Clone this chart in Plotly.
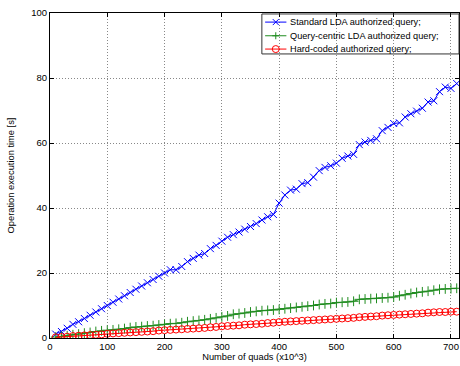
import plotly.graph_objects as go

quads = list(range(10, 720, 10))

standard_lda = [1.2, 2.0, 3.0, 4.2, 5.0, 6.0, 7.0, 8.0, 9.0, 10.0,
                11.0, 12.0, 13.0, 14.0, 15.0, 16.0, 17.0, 18.0, 19.0, 20.0,
                21.0, 21.0, 22.0, 23.5, 24.5, 25.5, 26.0, 27.5, 28.5, 29.8,
                31.0, 31.8, 32.6, 33.5, 34.3, 35.2, 36.3, 37.3, 38.0, 41.5,
                44.0, 45.5, 45.8, 47.5, 47.8, 49.5, 51.5, 52.5, 53.0, 53.8,
                55.3, 56.0, 56.5, 59.5, 60.3, 60.8, 61.3, 63.8, 64.8, 66.0,
                66.2, 68.0, 69.0, 69.8, 70.7, 72.6, 73.0, 75.8, 77.2, 76.8,
                78.3]

query_centric = [0.3, 0.5, 0.7, 1.0, 1.2, 1.5, 1.7, 2.0, 2.2, 2.4,
                 2.5, 2.7, 2.9, 3.2, 3.4, 3.5, 3.7, 3.8, 4.0, 4.2,
                 4.4, 4.5, 4.7, 5.0, 5.2, 5.4, 5.6, 5.9, 6.2, 6.5,
                 6.8, 7.3, 7.5, 7.7, 8.0, 8.2, 8.4, 8.5, 8.6, 8.8,
                 9.0, 9.2, 9.4, 9.6, 9.8, 10.0, 10.3, 10.5, 10.6, 10.9,
                 11.0, 11.1, 11.3, 11.9, 12.0, 12.1, 12.2, 12.3, 12.4, 12.6,
                 13.0, 13.3, 13.7, 14.0, 14.2, 14.4, 14.7, 15.0, 15.1, 15.2,
                 15.3]

hard_coded = [0.2, 0.3, 0.4, 0.6, 0.7, 0.8, 0.9, 1.0, 1.1, 1.3,
              1.4, 1.5, 1.6, 1.7, 1.8, 1.9, 2.0, 2.1, 2.3, 2.4,
              2.5, 2.6, 2.7, 2.8, 2.9, 3.0, 3.1, 3.3, 3.4, 3.6,
              3.7, 3.8, 3.9, 4.1, 4.2, 4.3, 4.4, 4.6, 4.7, 4.9,
              5.0, 5.1, 5.2, 5.3, 5.4, 5.5, 5.6, 5.7, 5.8, 5.9,
              6.0, 6.1, 6.2, 6.4, 6.5, 6.6, 6.7, 6.9, 7.0, 7.1,
              7.2, 7.3, 7.4, 7.5, 7.6, 7.8, 7.9, 8.0, 8.0, 8.1,
              8.1]

series_names = ["Standard LDA authorized query;",
                "Query-centric LDA authorized query;",
                "Hard-coded authorized query;"]
x_ticks = [0, 100, 200, 300, 400, 500, 600, 700]
y_ticks = [0, 20, 40, 60, 80, 100]

BLUE, GREEN, RED = "#0000ff", "#1f8c1f", "#ff0000"
colors = [BLUE, GREEN, RED]

fig = go.Figure()
fig.add_trace(go.Scatter(
    x=quads, y=standard_lda, name=series_names[0], mode="lines+markers",
    line=dict(color=BLUE, width=1),
    marker=dict(symbol="x-thin", size=7, line=dict(color=BLUE, width=1), color=BLUE)))
fig.add_trace(go.Scatter(
    x=quads, y=query_centric, name=series_names[1], mode="lines+markers",
    line=dict(color=GREEN, width=1),
    marker=dict(symbol="cross-thin", size=7, line=dict(color=GREEN, width=1), color=GREEN)))
fig.add_trace(go.Scatter(
    x=quads, y=hard_coded, name=series_names[2], mode="lines+markers",
    line=dict(color=RED, width=1),
    marker=dict(symbol="circle-open", size=7, line=dict(color=RED, width=1), color=RED)))

axis_common = dict(
    showline=True, linecolor="black", linewidth=1, mirror="ticks",
    ticks="inside", ticklen=4, tickcolor="black",
    showgrid=True, gridcolor="#888888", griddash="1px,2px", gridwidth=1,
    zeroline=False, tickfont=dict(size=9.5, color="black"),
)

# --- compact MATLAB-style legend drawn in paper coordinates ---
leg_box = dict(x0=0.518, x1=1.0, y0=0.874, y1=0.997)
leg_rows = [0.972, 0.930, 0.889]
leg_line = (0.526, 0.578)
leg_mark_x = 0.552
leg_text_x = 0.583
glyph_paths = ["M-3,-3 L3,3 M-3,3 L3,-3", "M-3.5,0 L3.5,0 M0,-3.5 L0,3.5", None]

shapes = [dict(type="rect", xref="paper", yref="paper", line=dict(color="#333333", width=1),
               fillcolor="rgba(0,0,0,0)", **leg_box)]
annotations = []
for name, col, yrow, gp in zip(series_names, colors, leg_rows, glyph_paths):
    shapes.append(dict(type="line", xref="paper", yref="paper",
                       x0=leg_line[0], x1=leg_line[1], y0=yrow, y1=yrow,
                       line=dict(color=col, width=1)))
    if gp is not None:
        shapes.append(dict(type="path", xref="paper", yref="paper",
                           xsizemode="pixel", ysizemode="pixel",
                           xanchor=leg_mark_x, yanchor=yrow, path=gp,
                           line=dict(color=col, width=1)))
    else:
        shapes.append(dict(type="circle", xref="paper", yref="paper",
                           xsizemode="pixel", ysizemode="pixel",
                           xanchor=leg_mark_x, yanchor=yrow,
                           x0=-3.5, x1=3.5, y0=-3.5, y1=3.5,
                           line=dict(color=col, width=1), fillcolor="rgba(0,0,0,0)"))
    annotations.append(dict(xref="paper", yref="paper", x=leg_text_x, y=yrow,
                            xanchor="left", yanchor="middle", showarrow=False,
                            text=name, font=dict(size=9.2, color="black")))

fig.update_layout(
    width=460, height=366,
    margin=dict(l=50, r=1, t=13, b=28),
    paper_bgcolor="white", plot_bgcolor="white",
    font=dict(family="Liberation Sans, Arial, sans-serif", size=9.5, color="black"),
    xaxis=dict(range=[0, 714], tickvals=x_ticks,
               title=dict(text="Number of quads (x10^3)", font=dict(size=9.3), standoff=2),
               **axis_common),
    yaxis=dict(range=[0, 100], tickvals=y_ticks,
               title=dict(text="Operation execution time [s]", font=dict(size=9.3), standoff=14),
               **axis_common),
    showlegend=False,
    shapes=shapes,
    annotations=annotations,
)

fig.write_html(
    "out.html",
    config={"displayModeBar": False},
    post_script="document.body.style.margin='0';document.body.style.overflow='hidden';",
)
